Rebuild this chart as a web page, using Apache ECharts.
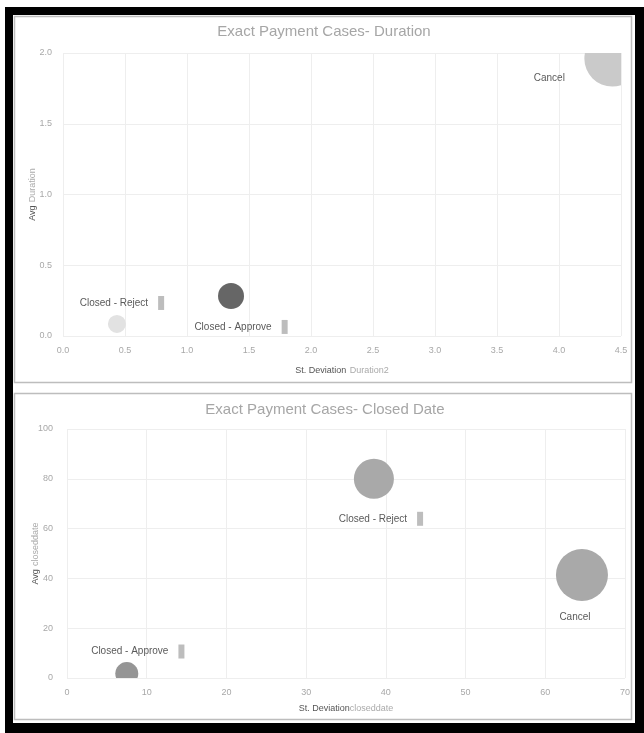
<!DOCTYPE html>
<html>
<head>
<meta charset="utf-8">
<title>Exact Payment Cases</title>
<script src="https://cdn.jsdelivr.net/npm/echarts@6/dist/echarts.min.js"></script>
<style>
  html, body { margin: 0; padding: 0; background: #fff; }
  #chart { width: 644px; height: 733px; }
</style>
</head>
<body>
<div id="chart"></div>
<script>
// Case status categories shown in both panels
const categories = ['Cancel', 'Closed - Approve', 'Closed - Reject'];

// Panel 1: duration statistics per status
const durationStdDev = [4.43, 1.355, 0.435];
const durationAvg = [1.96, 0.283, 0.085];
const durationWeight = [74, 16, 7.7];

// Panel 2: closed-date statistics per status
const closedStdDev = [64.6, 7.5, 38.5];
const closedAvg = [41.4, 1.8, 80];
const closedWeight = [64, 12.5, 38];

// Axis tick labels
const durationXTicks = ['0.0', '0.5', '1.0', '1.5', '2.0', '2.5', '3.0', '3.5', '4.0', '4.5'];
const durationYTicks = ['0.0', '0.5', '1.0', '1.5', '2.0'];
const closedXTicks = ['0', '10', '20', '30', '40', '50', '60', '70'];
const closedYTicks = ['0', '20', '40', '60', '80', '100'];

// Styling per status and panel
const durationColors = { 'Cancel': '#cacaca', 'Closed - Approve': '#666666', 'Closed - Reject': '#e2e2e2' };
const closedColors = { 'Cancel': '#a9a9a9', 'Closed - Approve': '#959595', 'Closed - Reject': '#a9a9a9' };
const durationLabelOffset = { 'Cancel': [-63, 20], 'Closed - Approve': [10, 31], 'Closed - Reject': [5, -21] };
const closedLabelOffset = { 'Cancel': [-7, 42], 'Closed - Approve': [11, -22], 'Closed - Reject': [7, 40] };

const bubbleScale = 6.5;
function bubbleSize(w) { return bubbleScale * Math.sqrt(w); }

const labelRich = {
  t: { fontSize: 10, fill: '#5a5a5a', fontFamily: 'Liberation Sans' },
  m: { backgroundColor: '#bdbdbd', width: 6, height: 14 }
};

function labelText(name) {
  return name === 'Cancel' ? '{t|' + name + '}' : '{t|' + name + '}   {m|}';
}

// Bubbles are drawn as circles clipped to the plot area, with a status label beside each
function bubbleRenderer(colors, offsets) {
  return function (params, api) {
    const name = categories[params.dataIndex];
    const c = api.coord([api.value(0), api.value(1)]);
    const r = bubbleSize(api.value(2)) / 2;
    const off = offsets[name];
    return {
      type: 'group',
      children: [
        { type: 'circle', shape: { cx: c[0], cy: c[1], r: r }, style: { fill: colors[name] } },
        { type: 'text', x: c[0] + off[0], y: c[1] + off[1],
          style: { text: labelText(name), rich: labelRich, fill: '#5a5a5a', align: 'center', verticalAlign: 'middle' } }
      ]
    };
  };
}

function seriesData(xs, ys, ws) {
  return categories.map((name, i) => ({ name: name, value: [xs[i], ys[i], ws[i]] }));
}

const axisLabelStyle = { color: '#a8a8a8', fontSize: 9, fontFamily: 'Liberation Sans' };
const splitStyle = { show: true, lineStyle: { color: '#eeeeee', width: 1 } };
const nameRich = {
  d: { color: '#555', fontSize: 9, fontFamily: 'Liberation Sans' },
  l: { color: '#aaa', fontSize: 9, fontFamily: 'Liberation Sans' }
};
const titleStyle = { color: '#a6a6a6', fontSize: 15, fontWeight: 'normal', fontFamily: 'Liberation Sans' };

const chart = echarts.init(document.getElementById('chart'), null, { renderer: 'canvas' });

chart.setOption({
  backgroundColor: '#ffffff',
  animation: false,
  graphic: [
    { type: 'rect', shape: { x: 5, y: 7, width: 660, height: 740 }, style: { fill: '#000' } },
    { type: 'rect', shape: { x: 13, y: 15, width: 622, height: 708 }, style: { fill: '#fff' } },
    { type: 'rect', shape: { x: 14.5, y: 16.5, width: 617, height: 366 },
      style: { fill: '#fff', stroke: '#bdbdbd', lineWidth: 1.5 } },
    { type: 'rect', shape: { x: 14.5, y: 393.5, width: 617, height: 326 },
      style: { fill: '#fff', stroke: '#bdbdbd', lineWidth: 1.5 } }
  ],
  title: [
    { text: 'Exact Payment Cases- Duration', left: 319, top: 19, textAlign: 'center', textStyle: titleStyle },
    { text: 'Exact Payment Cases- Closed Date', left: 320, top: 397, textAlign: 'center', textStyle: titleStyle }
  ],
  grid: [
    { left: 63, right: 23, top: 53, height: 283 },
    { left: 67, right: 19, top: 429, height: 249 }
  ],
  xAxis: [
    {
      type: 'value', gridIndex: 0, min: 0, max: 4.5, interval: 0.5,
      name: '{d|St. Deviation} {l|Duration2}', nameLocation: 'middle', nameGap: 29, nameMoveOverlap: false,
      nameTextStyle: { rich: nameRich },
      axisLine: { show: false }, axisTick: { show: false },
      axisLabel: Object.assign({ margin: 10, formatter: (v) => durationXTicks[Math.round(v / 0.5)] }, axisLabelStyle),
      splitLine: splitStyle
    },
    {
      type: 'value', gridIndex: 1, min: 0, max: 70, interval: 10,
      name: '{d|St. Deviation}{l|closeddate}', nameLocation: 'middle', nameGap: 26, nameMoveOverlap: false,
      nameTextStyle: { rich: nameRich },
      axisLine: { show: false }, axisTick: { show: false },
      axisLabel: Object.assign({ margin: 10, formatter: (v) => closedXTicks[Math.round(v / 10)] }, axisLabelStyle),
      splitLine: splitStyle
    }
  ],
  yAxis: [
    {
      type: 'value', gridIndex: 0, min: 0, max: 2, interval: 0.5,
      name: '{d|Avg} {l|Duration}', nameLocation: 'middle', nameGap: 24, nameRotate: 90, nameMoveOverlap: false,
      nameTextStyle: { rich: nameRich },
      axisLine: { show: false }, axisTick: { show: false },
      axisLabel: Object.assign({ margin: 11, formatter: (v) => durationYTicks[Math.round(v / 0.5)] }, axisLabelStyle),
      splitLine: splitStyle
    },
    {
      type: 'value', gridIndex: 1, min: 0, max: 100, interval: 20,
      name: '{d|Avg} {l|closeddate}', nameLocation: 'middle', nameGap: 25, nameRotate: 90, nameMoveOverlap: false,
      nameTextStyle: { rich: nameRich },
      axisLine: { show: false }, axisTick: { show: false },
      axisLabel: Object.assign({ margin: 14, formatter: (v) => closedYTicks[Math.round(v / 20)] }, axisLabelStyle),
      splitLine: splitStyle
    }
  ],
  series: [
    {
      type: 'custom', xAxisIndex: 0, yAxisIndex: 0, clip: true,
      encode: { x: 0, y: 1 },
      renderItem: bubbleRenderer(durationColors, durationLabelOffset),
      data: seriesData(durationStdDev, durationAvg, durationWeight)
    },
    {
      type: 'custom', xAxisIndex: 1, yAxisIndex: 1, clip: true,
      encode: { x: 0, y: 1 },
      renderItem: bubbleRenderer(closedColors, closedLabelOffset),
      data: seriesData(closedStdDev, closedAvg, closedWeight)
    }
  ]
});
</script>
</body>
</html>
